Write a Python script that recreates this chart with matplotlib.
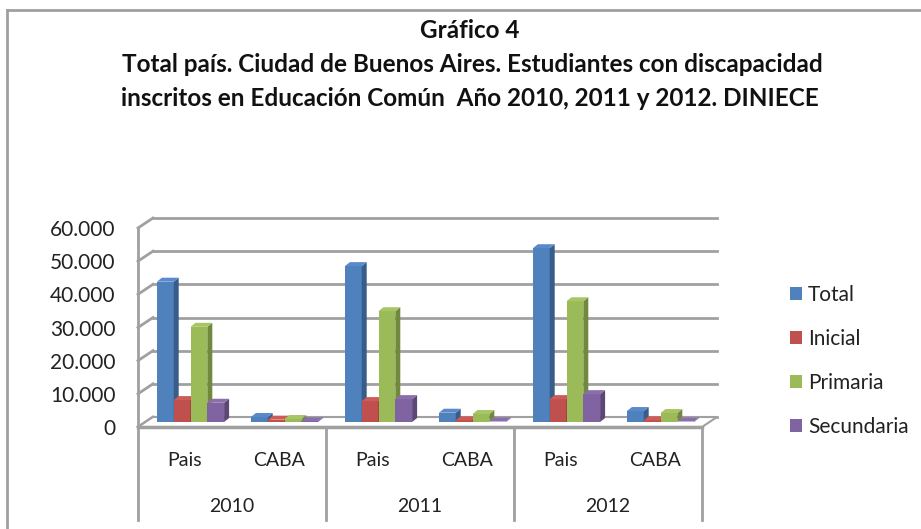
import matplotlib
matplotlib.use("Agg")
import matplotlib.pyplot as plt
from matplotlib.patches import Polygon, Patch
from matplotlib.lines import Line2D

# ---------------- data ----------------
years = ["2010", "2011", "2012"]
places = ["Pais", "CABA"]
series = ["Total", "Inicial", "Primaria", "Secundaria"]
total = [42300, 1500, 47000, 2800, 52400, 3300]
inicial = [6600, 700, 6300, 500, 6900, 500]
primaria = [28700, 900, 33400, 2400, 36400, 2700]
secundaria = [5800, 200, 6900, 150, 8400, 150]
yticks = [0, 10000, 20000, 30000, 40000, 50000, 60000]
ytick_labels = ["0", "10.000", "20.000", "30.000", "40.000", "50.000", "60.000"]
values = [total, inicial, primaria, secundaria]

front = ["#4F81BD", "#C0504D", "#9BBB59", "#8064A2"]
side = ["#385D8A", "#8C3836", "#71893F", "#5C4776"]
topc = ["#5A8ACB", "#CD5B58", "#A6C665", "#8B6FAD"]

W, H = 921, 529
FONT = "Lato"
plt.rcParams["font.family"] = [FONT, "DejaVu Sans"]

fig = plt.figure(figsize=(W / 100, H / 100), dpi=100)
# axes placed in pixels: front floor x 138..702, y 0 at 427, 60000 at 228
x0p, x1p, y0p, y1p = 138, 702, 427, 228
ax = fig.add_axes([x0p / W, (H - y0p) / H, (x1p - x0p) / W, (y0p - y1p) / H])
ax.set_xlim(-0.5, 5.5)
ax.set_ylim(0, 60000)
for s in ax.spines.values():
    s.set_visible(False)
ax.set_xticks([])
ax.set_yticks(yticks)
ax.set_yticklabels(ytick_labels, fontsize=15, color="#222222")
ax.tick_params(axis="y", length=0, pad=16)
ax.patch.set_alpha(0)

pxx = 6.0 / (x1p - x0p)          # data units per pixel (x)
pxy = 60000.0 / (y0p - y1p)      # data units per pixel (y)
def px(dx):
    return dx * pxx
def py(dy):
    return dy * pxy
def ydata(pix_y):
    return (y0p - pix_y) * pxy

grid_c = "#A0A0A0"
# back wall offset
bdx, bdy = px(15), py(10)
xl, xr = -0.5, 5.5
# floor
floor = Polygon([(xl, 0), (xr, 0), (xr + bdx, bdy), (xl + bdx, bdy)], closed=True,
                facecolor="white", edgecolor=grid_c, lw=1.5, clip_on=False, zorder=1)
ax.add_patch(floor)
for v in yticks:
    ax.add_line(Line2D([xl + bdx, xr + bdx], [v + bdy, v + bdy], color=grid_c, lw=2,
                       clip_on=False, zorder=0.5))
    ax.add_line(Line2D([xl, xl + bdx], [v, v + bdy], color=grid_c, lw=2,
                       clip_on=False, zorder=0.5))
ax.add_line(Line2D([xl, xl], [0, 60000], color=grid_c, lw=2, clip_on=False, zorder=0.6))
ax.add_line(Line2D([xl, xr], [0, 0], color=grid_c, lw=2.5, clip_on=False, zorder=2))

# bars (pseudo 3D)
w = px(16.8)
shift = px(5.5)
base = py(5)
ddx, ddy = px(5), py(4)
for c in range(6):
    for i in range(4):
        v = values[i][c]
        left = c + shift - 2 * w + i * w
        z = 3 + c * 0.1 + i * 0.01
        ax.bar(left, v, width=w, bottom=base, align="edge", color=front[i],
               lw=0, zorder=z, clip_on=False)
        r = left + w
        t = base + v
        ax.add_patch(Polygon([(r, base), (r + ddx, base + ddy), (r + ddx, t + ddy), (r, t)],
                             closed=True, facecolor=side[i], lw=0, zorder=z, clip_on=False))
        ax.add_patch(Polygon([(left, t), (r, t), (r + ddx, t + ddy), (left + ddx, t + ddy)],
                             closed=True, facecolor=topc[i], lw=0, zorder=z, clip_on=False))

# category axis: dividers and labels
for k in range(4):
    xd = -0.5 + 2 * k
    ax.add_line(Line2D([xd, xd], [0, ydata(520)], color=grid_c, lw=2, clip_on=False))
for c in range(6):
    ax.text(c, ydata(461), places[c % 2], ha="center", va="center", fontsize=14,
            color="#222222", clip_on=False)
for k in range(3):
    ax.text(0.5 + 2 * k, ydata(506), years[k], ha="center", va="center", fontsize=14,
            color="#222222", clip_on=False)

# legend
handles = [Patch(facecolor=front[i], edgecolor="none") for i in range(4)]
fig.legend(handles, series, loc="center left", bbox_to_anchor=(780 / W, 1 - 361 / H),
           frameon=False, fontsize=15, handlelength=0.55, handleheight=0.55,
           handletextpad=0.3, labelspacing=1.15, borderpad=0, labelcolor="#222222")

# titles
tfs = 17.5
fig.text(470 / W, 1 - 30 / H, "Gráfico 4", ha="center", va="center", fontsize=tfs,
         fontweight="bold", color="#111111")
fig.text(472 / W, 1 - 65 / H, "Total país. Ciudad de Buenos Aires. Estudiantes con discapacidad",
         ha="center", va="center", fontsize=tfs, fontweight="bold", color="#111111")
fig.text(470 / W, 1 - 98 / H, "inscritos en Educación Común  Año 2010, 2011 y 2012. DINIECE",
         ha="center", va="center", fontsize=tfs, fontweight="bold", color="#111111")

# outer frame
fig.add_artist(Line2D([7 / W, 7 / W], [0, 1 - 10 / H], color="#A0A0A0", lw=2,
                      transform=fig.transFigure))
fig.add_artist(Line2D([7 / W, 1], [1 - 10 / H, 1 - 10 / H], color="#A0A0A0", lw=2,
                      transform=fig.transFigure))

fig.savefig("out.png", dpi=100)
